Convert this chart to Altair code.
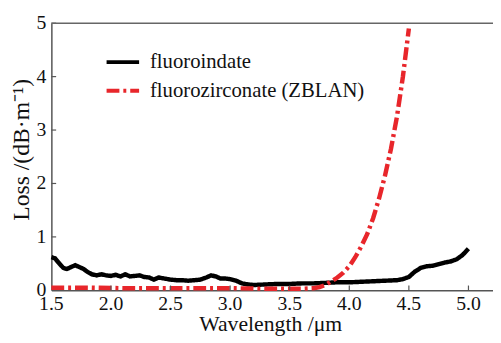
import altair as alt
import pandas as pd

# fluoroindate (black, noisy)
fi_x = [1.50, 1.53, 1.56, 1.60, 1.63, 1.67, 1.70, 1.73, 1.77, 1.80, 1.84, 1.88, 1.92, 1.96,
        2.00, 2.04, 2.08, 2.12, 2.16, 2.20, 2.24, 2.28, 2.32, 2.36, 2.40, 2.45, 2.50, 2.55,
        2.60, 2.65, 2.70, 2.75, 2.80, 2.84, 2.88, 2.92, 2.96, 3.00, 3.05, 3.10, 3.15, 3.20,
        3.30, 3.40, 3.50, 3.60, 3.70, 3.80, 3.90, 4.00, 4.10, 4.20, 4.30, 4.40, 4.45, 4.50,
        4.55, 4.60, 4.65, 4.70, 4.75, 4.80, 4.85, 4.90, 4.95, 5.00]
fi_y = [0.62, 0.60, 0.52, 0.42, 0.40, 0.44, 0.47, 0.44, 0.40, 0.35, 0.30, 0.28, 0.30, 0.28,
        0.27, 0.29, 0.26, 0.30, 0.26, 0.27, 0.28, 0.25, 0.24, 0.20, 0.24, 0.22, 0.20, 0.19,
        0.19, 0.18, 0.19, 0.20, 0.24, 0.28, 0.26, 0.22, 0.22, 0.21, 0.18, 0.13, 0.11, 0.10,
        0.11, 0.12, 0.12, 0.13, 0.13, 0.14, 0.15, 0.15, 0.16, 0.17, 0.18, 0.19, 0.21, 0.25,
        0.35, 0.42, 0.45, 0.46, 0.49, 0.52, 0.54, 0.58, 0.66, 0.78]

# fluorozirconate (ZBLAN, red dash-dot)
zb_x = [1.50, 1.80, 2.10, 2.40, 2.70, 3.00, 3.30, 3.60, 3.70, 3.75, 3.80, 3.85, 3.90, 3.95,
        4.00, 4.05, 4.10, 4.15, 4.20, 4.25, 4.30, 4.35, 4.40, 4.45, 4.50]
zb_y = [0.05, 0.05, 0.04, 0.04, 0.04, 0.04, 0.03, 0.03, 0.04, 0.06, 0.10, 0.17, 0.24, 0.33,
        0.45, 0.62, 0.82, 1.05, 1.35, 1.72, 2.15, 2.65, 3.25, 4.00, 4.90]

series = ["fluoroindate", "fluorozirconate (ZBLAN)"]
x_ticks = [1.5, 2.0, 2.5, 3.0, 3.5, 4.0, 4.5, 5.0]
x_labels = ["1.5", "2.0", "2.5", "3.0", "3.5", "4.0", "4.5", "5.0"]
y_ticks = [0, 1, 2, 3, 4, 5]
y_labels = ["0", "1", "2", "3", "4", "5"]

rows = []
for i, (x, y) in enumerate(zip(fi_x, fi_y)):
    rows.append({"x": x, "y": y, "s": series[0], "o": i})
for i, (x, y) in enumerate(zip(zb_x, zb_y)):
    rows.append({"x": x, "y": y, "s": series[1], "o": i})
df = pd.DataFrame(rows)

FONT = "Liberation Serif"
W, H = 448, 271
xs = alt.Scale(domain=[1.5, 5.206], nice=False, zero=False)
ys = alt.Scale(domain=[0, 5], nice=False)

lines = alt.Chart(df).mark_line(strokeWidth=4.5, strokeCap="butt").encode(
    x=alt.X("x:Q", scale=xs, title="Wavelength /μm",
            axis=alt.Axis(values=x_ticks, labels=False, grid=False, ticks=False,
                          titleFont=FONT, titleFontSize=22, titleFontWeight="normal",
                          titlePadding=24, titleX=222)),
    y=alt.Y("y:Q", scale=ys, title="Loss /(dB·m⁻¹)",
            axis=alt.Axis(values=y_ticks, labels=False, grid=False, ticks=False,
                          titleFont=FONT, titleFontSize=24, titleFontWeight="normal",
                          titlePadding=18, titleY=128)),
    color=alt.Color("s:N", scale=alt.Scale(domain=series, range=["#000000", "#e8262b"]),
                    legend=alt.Legend(title=None, orient="none", legendX=54, legendY=21,
                                      symbolType="stroke", symbolSize=1089,
                                      symbolStrokeWidth=4, labelFontSize=21,
                                      labelFont=FONT, labelLimit=400, rowPadding=-14,
                                      labelOffset=9, labelColor="#111")),
    strokeDash=alt.StrokeDash("s:N", scale=alt.Scale(domain=series, range=[[1, 0], [13, 4, 3, 4]]),
                              legend=None),
    order="o:Q",
)

xl = pd.DataFrame({"x": x_ticks, "t": x_labels, "y": [0] * 8})
xlab = alt.Chart(xl).mark_text(font=FONT, fontSize=20, baseline="top", dy=4,
                               color="#111", align="center").encode(
    x=alt.X("x:Q", scale=xs), y=alt.Y("y:Q", scale=ys), text="t:N")
yl = pd.DataFrame({"y": y_ticks, "t": y_labels, "x": [1.5] * 6})
ylab = alt.Chart(yl).mark_text(font=FONT, fontSize=20, baseline="middle", dx=-5,
                               color="#111", align="right").encode(
    x=alt.X("x:Q", scale=xs), y=alt.Y("y:Q", scale=ys), text="t:N")

xt = pd.DataFrame({"x": x_ticks[1:], "y0": [0] * 7, "y1": [0.09] * 7})
xticks = alt.Chart(xt).mark_rule(color="#555", strokeWidth=1.2).encode(
    x=alt.X("x:Q", scale=xs), y=alt.Y("y0:Q", scale=ys), y2="y1:Q")
yt = pd.DataFrame({"y": y_ticks[1:], "x0": [1.5] * 5, "x1": [1.54] * 5})
yticks = alt.Chart(yt).mark_rule(color="#555", strokeWidth=1.2).encode(
    y=alt.Y("y:Q", scale=ys), x=alt.X("x0:Q", scale=xs), x2="x1:Q")
top = alt.Chart(pd.DataFrame({"a": [0]})).mark_rule(color="#666", strokeWidth=1.5).encode(
    x=alt.value(0), x2=alt.value(W), y=alt.value(0))

chart = alt.layer(lines, xticks, yticks, top, xlab, ylab).properties(
    width=W, height=H,
    autosize=alt.AutoSizeParams(type="none"),
    padding={"left": 44, "top": 13, "right": 0, "bottom": 50},
).configure(background="white", font=FONT).configure_view(stroke=None).configure_axis(
    domainColor="#555", domainWidth=1.5, titleColor="#111", titleFont=FONT,
).configure_legend(labelFont=FONT)

chart.save("out.html", embed_options={"renderer": "svg", "actions": False})
